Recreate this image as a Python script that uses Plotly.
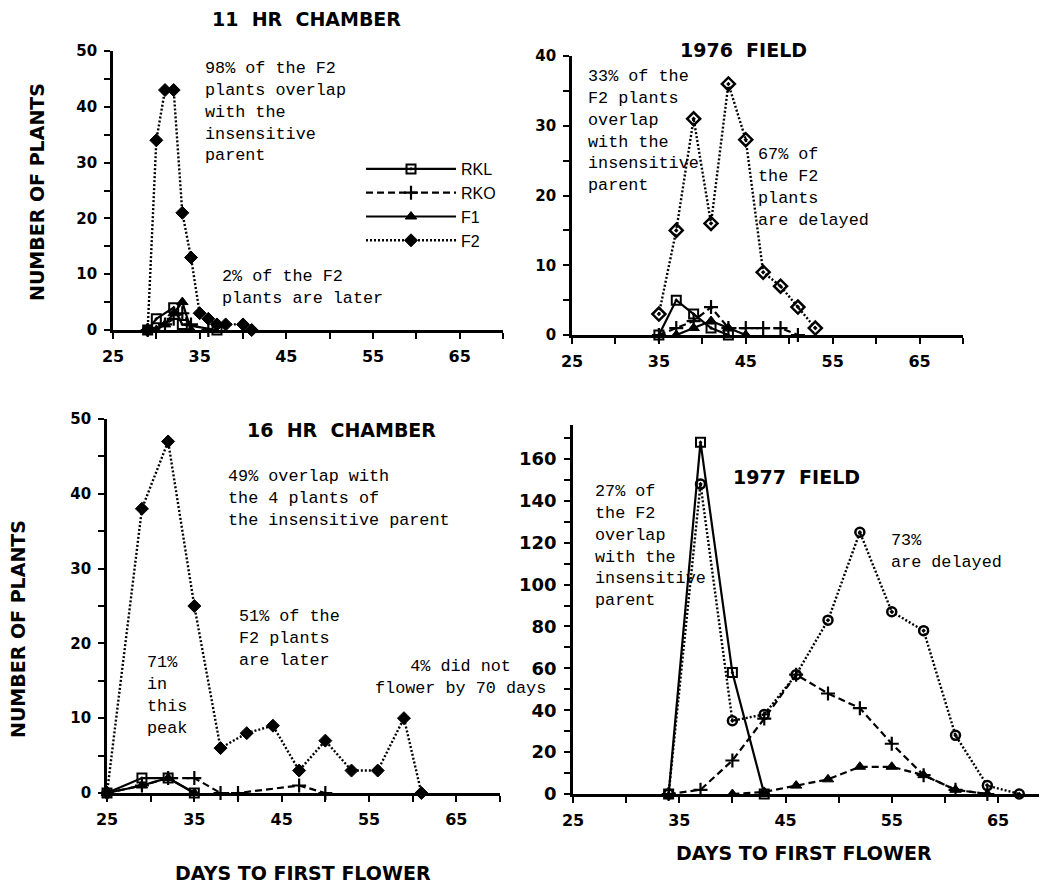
import plotly.graph_objects as go

W, H = 1047, 883
OFF = 8  # page body margin of the exported html

# ---------------- data ----------------
# 11 HR CHAMBER
tl_rkl_x = [29, 30, 32, 33, 37]
tl_rkl_y = [0, 2, 4, 1, 0]
tl_rko_x = [29, 31, 32, 33, 34, 36]
tl_rko_y = [0, 1, 2, 3, 1, 0]
tl_f1_x = [30, 31, 32, 33, 34]
tl_f1_y = [0, 1, 3, 5, 0]
tl_f2_x = [29, 30, 31, 32, 33, 34, 35, 36, 37, 38, 40, 41]
tl_f2_y = [0, 34, 43, 43, 21, 13, 3, 2, 1, 1, 1, 0]

# 1976 FIELD
tr_rkl_x = [35, 37, 39, 41, 43]
tr_rkl_y = [0, 5, 3, 1, 0]
tr_rko_x = [35, 37, 39, 41, 43, 45, 47, 49, 51]
tr_rko_y = [0, 1, 2, 4, 1, 1, 1, 1, 0]
tr_f1_x = [37, 39, 41, 43, 45]
tr_f1_y = [0, 1, 2, 1, 0]
tr_f2_x = [35, 37, 39, 41, 43, 45, 47, 49, 51, 53]
tr_f2_y = [3, 15, 31, 16, 36, 28, 9, 7, 4, 1]

# 16 HR CHAMBER
bl_rkl_x = [25, 29, 32, 35]
bl_rkl_y = [0, 2, 2, 0]
bl_rko_x = [25, 29, 32, 35, 38, 40, 47, 50]
bl_rko_y = [0, 1, 2, 2, 0, 0, 1, 0]
bl_f1_x = [25, 29, 32, 35]
bl_f1_y = [0, 1, 2, 0]
bl_f2_x = [25, 29, 32, 35, 38, 41, 44, 47, 50, 53, 56, 59, 61]
bl_f2_y = [0, 38, 47, 25, 6, 8, 9, 3, 7, 3, 3, 10, 0]

# 1977 FIELD
br_rkl_x = [34, 37, 40, 43]
br_rkl_y = [0, 168, 58, 0]
br_rko_x = [34, 37, 40, 43, 46, 49, 52, 55, 58, 61, 64]
br_rko_y = [0, 2, 16, 36, 57, 48, 41, 24, 9, 2, 0]
br_f1_x = [40, 43, 46, 49, 52, 55, 58, 61, 64]
br_f1_y = [0, 1, 4, 7, 13, 13, 9, 2, 0]
br_f2_x = [34, 37, 40, 43, 46, 49, 52, 55, 58, 61, 64, 67]
br_f2_y = [0, 148, 35, 38, 57, 83, 125, 87, 78, 28, 4, 0]

x_ticks = [25, 35, 45, 55, 65]
panel_titles = ["11  HR  CHAMBER", "1976  FIELD", "16  HR  CHAMBER", "1977  FIELD"]

# ---------------- helpers ----------------
def px(x):
    return (x - OFF) / W


def py(y):
    return 1 - (y - OFF) / H


MONO = "Liberation Mono, Courier New, monospace"
SANS = "DejaVu Sans, Arial, sans-serif"

line_rkl = dict(color="black", width=2.2)
line_rko = dict(color="black", width=2.2, dash="7px,4px")
line_f1 = dict(color="black", width=2.2)
line_f2 = dict(color="black", width=2.4, dash="2px,2px")

mk_rkl = dict(symbol="square-open-dot", size=9, color="black", line=dict(width=2, color="black"))
mk_rko = dict(symbol="cross-thin", size=10, color="black", line=dict(width=2.2, color="black"))
mk_f1 = dict(symbol="triangle-up", size=10, color="black", line=dict(width=1, color="black"))
mk_f2_fill = dict(symbol="diamond", size=10, color="black", line=dict(width=1, color="black"))
mk_f2_open = dict(symbol="diamond-open-dot", size=10, color="black", line=dict(width=2.5, color="black"))
mk_f2_circ = dict(symbol="circle-open-dot", size=9, color="black", line=dict(width=2.5, color="black"))

fig = go.Figure()


def add(xs, ys, name, line, marker, axis, legend=False):
    fig.add_trace(go.Scatter(
        x=xs, y=ys, name=name, mode="lines+markers", line=line, marker=marker,
        xaxis="x" + axis, yaxis="y" + axis, showlegend=legend, cliponaxis=False,
    ))


add(tl_rkl_x, tl_rkl_y, "RKL", line_rkl, mk_rkl, "", True)
add(tl_rko_x, tl_rko_y, "RKO", line_rko, mk_rko, "", True)
add(tl_f1_x, tl_f1_y, "F1", line_f1, mk_f1, "", True)
add(tl_f2_x, tl_f2_y, "F2", line_f2, mk_f2_fill, "", True)

add(tr_f2_x, tr_f2_y, "F2", line_f2, mk_f2_open, "2")
add(tr_rko_x, tr_rko_y, "RKO", line_rko, mk_rko, "2")
add(tr_f1_x, tr_f1_y, "F1", line_f1, mk_f1, "2")
add(tr_rkl_x, tr_rkl_y, "RKL", line_rkl, mk_rkl, "2")

add(bl_f2_x, bl_f2_y, "F2", line_f2, mk_f2_fill, "3")
add(bl_rko_x, bl_rko_y, "RKO", line_rko, mk_rko, "3")
add(bl_f1_x, bl_f1_y, "F1", line_f1, mk_f1, "3")
add(bl_rkl_x, bl_rkl_y, "RKL", line_rkl, mk_rkl, "3")

add(br_f2_x, br_f2_y, "F2", line_f2, mk_f2_circ, "4")
add(br_rko_x, br_rko_y, "RKO", line_rko, mk_rko, "4")
add(br_f1_x, br_f1_y, "F1", dict(color="black", width=2.2, dash="7px,4px"), mk_f1, "4")
add(br_rkl_x, br_rkl_y, "RKL", line_rkl, mk_rkl, "4")


def xax(x0, x1, anchor, xmax):
    return dict(
        domain=[px(x0), px(x1)], range=[25, xmax], anchor=anchor, automargin=False,
        tickvals=x_ticks, ticktext=[str(v) for v in x_ticks],
        showline=True, linecolor="black", linewidth=2.6, showgrid=False, zeroline=False,
        ticks="outside", ticklen=6, tickwidth=2, tickcolor="black",
        minor=dict(tickvals=[30, 40, 50, 60, 70], ticks="outside", ticklen=6, tickwidth=2, tickcolor="black"),
        tickfont=dict(family=SANS, size=16, color="black", weight="bold"),
        ticklabelstandoff=4,
    )


def yax(ytop, ybot, anchor, ymax, dtick, mdtick, fsize=15):
    return dict(
        domain=[py(ybot), py(ytop)], range=[0, ymax], anchor=anchor, automargin=False,
        tick0=0, dtick=dtick,
        showline=True, linecolor="black", linewidth=2.6, showgrid=False, zeroline=False,
        ticks="outside", ticklen=6, tickwidth=2, tickcolor="black",
        minor=dict(dtick=mdtick, tick0=0, ticks="outside", ticklen=6, tickwidth=2, tickcolor="black"),
        tickfont=dict(family=SANS, size=fsize, color="black", weight="bold"),
        ticklabelstandoff=4,
    )


br_right = W + OFF - 1
fig.update_layout(
    width=W, height=H,
    margin=dict(l=0, r=0, t=0, b=0, autoexpand=False),
    paper_bgcolor="white", plot_bgcolor="white",
    xaxis=xax(113, 503, "y", 70),
    yaxis=yax(51, 330, "x", 50, 10, 5),
    xaxis2=xax(572, 963, "y2", 70),
    yaxis2=yax(56, 335, "x2", 40, 10, 5),
    xaxis3=xax(107, 500, "y3", 70),
    yaxis3=yax(419, 793, "x3", 50, 10, 5),
    xaxis4=xax(573, br_right, "y4", 25 + (br_right - 573) / 10.625),
    yaxis4=yax(425, 794, "x4", 176.2, 20, 10, 18),
    legend=dict(
        x=px(361), y=py(152), xanchor="left", yanchor="top",
        font=dict(family="Liberation Sans, Arial, sans-serif", size=16, color="black"),
        itemwidth=90, bgcolor="rgba(0,0,0,0)", tracegroupgap=0,
    ),
)

annotations = []


def note(text, x, ytop, align="left", xanchor="left"):
    annotations.append(dict(
        text=text, x=px(x), y=py(ytop), xref="paper", yref="paper",
        xanchor=xanchor, yanchor="top", align=align, showarrow=False,
        font=dict(family=MONO, size=16.8, color="black"),
    ))


note("98% of the F2<br>plants overlap<br>with the<br>insensitive<br>parent", 203, 57)
note("2% of the F2<br>plants are later", 220, 265)
note("33% of the<br>F2 plants<br>overlap<br>with the<br>insensitive<br>parent", 586, 65)
note("67% of<br>the F2<br>plants<br>are delayed", 756, 143)
note("49% overlap with<br>the 4 plants of<br>the insensitive parent", 226, 465)
note("51% of the<br>F2 plants<br>are later", 237, 605)
note("71%<br>in<br>this<br>peak", 145, 651)
note("4% did not<br>flower by 70 days", 460, 655, align="center", xanchor="center")
note("27% of<br>the F2<br>overlap<br>with the<br>insensitive<br>parent", 593, 480)
note("73%<br>are delayed", 889, 529)


def bold(text, x, y, angle=0):
    annotations.append(dict(
        text=text, x=px(x), y=py(y), xref="paper", yref="paper",
        xanchor="center", yanchor="middle", showarrow=False, textangle=angle,
        font=dict(family=SANS, size=19, color="black", weight="bold"),
    ))


bold(panel_titles[0], 306, 19)
bold(panel_titles[1], 743, 50)
bold(panel_titles[2], 341, 430)
bold(panel_titles[3], 796, 477)
bold("NUMBER OF PLANTS", 37, 192, -90)
bold("NUMBER OF PLANTS", 18, 629, -90)
bold("DAYS TO FIRST FLOWER", 303, 873)
bold("DAYS TO FIRST FLOWER", 804, 853)

fig.update_layout(annotations=annotations)

fig.write_html("out.html")
